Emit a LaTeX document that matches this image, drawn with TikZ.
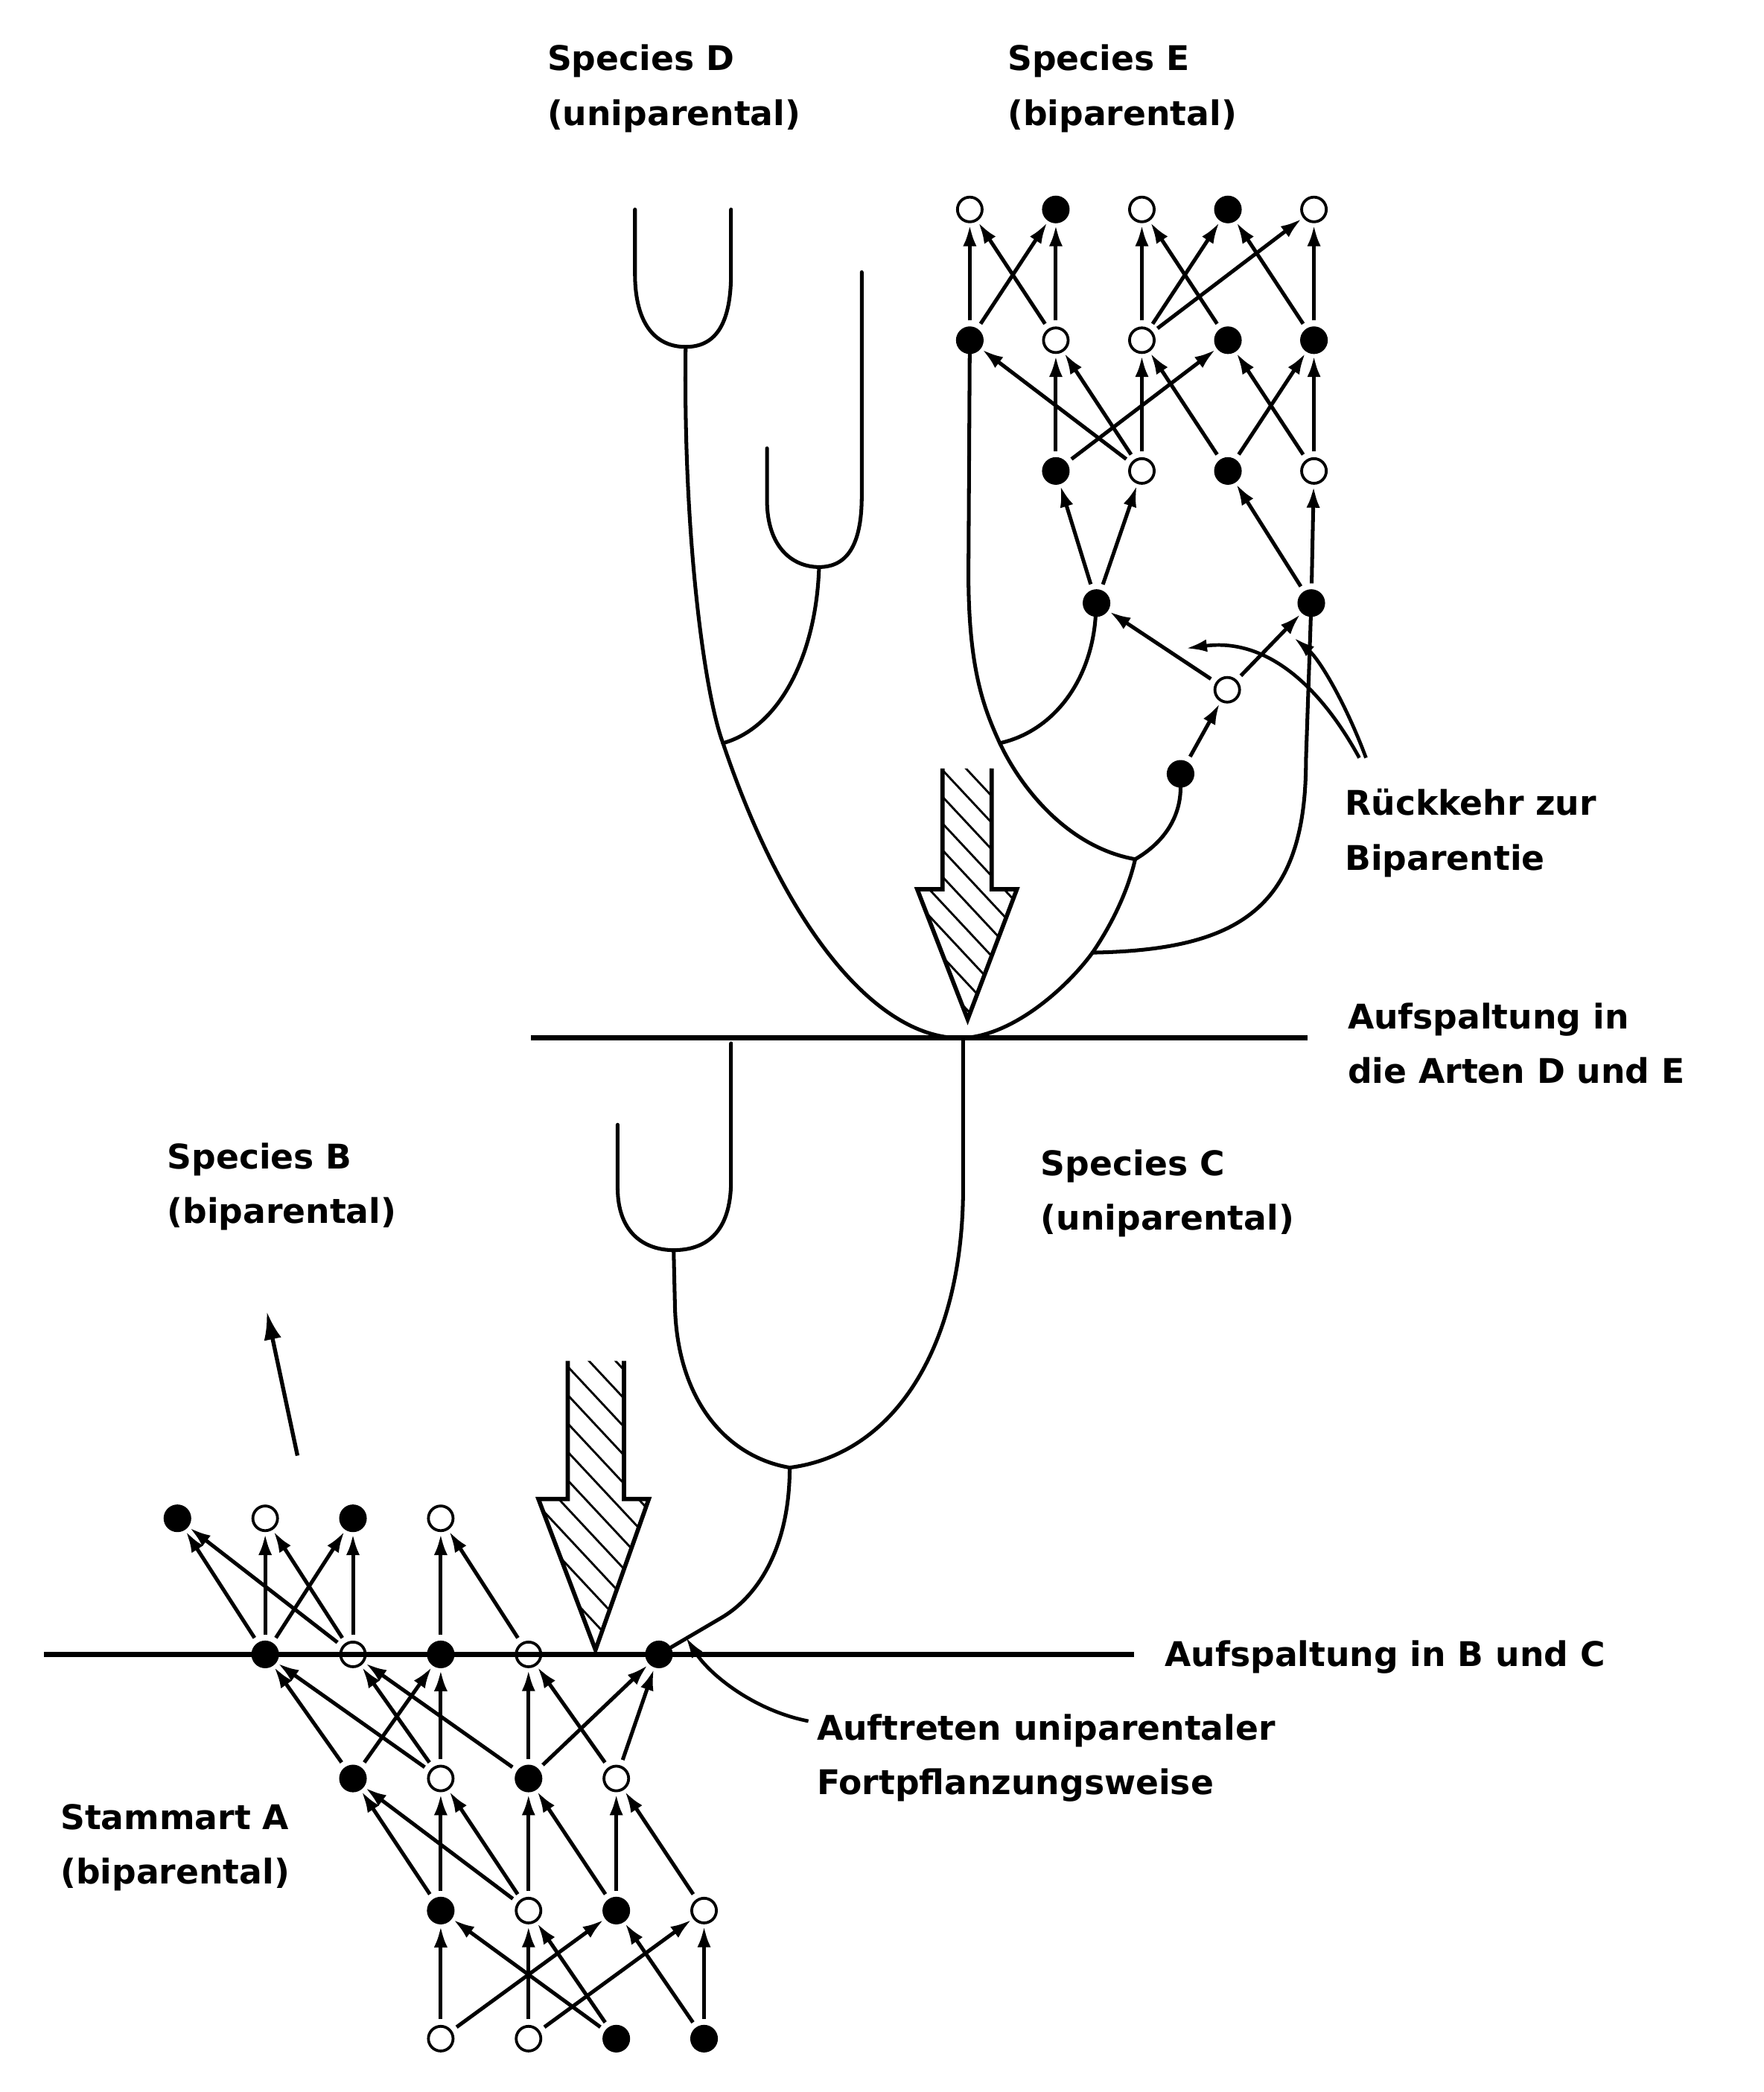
\documentclass[tikz,border=0pt]{standalone}
\usepackage{fontspec}
\setmainfont{DejaVu Sans}
\usetikzlibrary{arrows.meta}

\begin{document}
\begin{tikzpicture}[x=0.02cm,y=-0.02cm]
		\tikzstyle{fleche}=[->,>={Latex[length=9pt,width=5.8pt]},line width=1.6pt,shorten <=2.5pt,shorten >=0.8pt]
		\tikzstyle{pointeur}=[->,>={Latex[length=9pt,width=5.4pt]},line width=1.5pt]
		\tikzstyle{grandefleche}=[->,>={Latex[length=12pt,width=7.5pt]},line width=1.7pt]
		\tikzstyle{plein}=[circle,fill=black,draw=black,inner sep=0pt,minimum size=0.4cm]
		\tikzstyle{vide}=[circle,draw=black,line width=1.2pt,inner sep=0pt,minimum size=0.37cm]
		\tikzstyle{branche}=[line width=1.6pt,line cap=round]
		\tikzstyle{coupure}=[line width=2.1pt]
		\tikzstyle{contour}=[line width=1.8pt,line join=miter]
		\tikzstyle{hachure}=[line width=0.9pt]
		\tikzstyle{texte}=[anchor=base west,inner sep=0pt,font=\fontsize{14.5}{17}\selectfont\bfseries]
		
		\def\Interligne{0.82cm}
		\def\ColA{133}
		\def\PasA{65.8}
		\def\ColE{727}
		\def\PasE{64.5}
		\def\FlecheBC{(425.6,1020) -- (425.6,1123.5) -- (403.6,1123.5) -- (446.4,1236.6) -- (486.4,1123.5) -- (467.8,1123.5) -- (467.8,1020)}
		\def\FlecheDE{(706.5,576) -- (706.5,666.5) -- (687.6,666.5) -- (725.4,764) -- (762.3,666.5) -- (743.4,666.5) -- (743.4,576)}
		
		\useasboundingbox (0,0) rectangle (1322,1568);
		
		\coordinate (coupBCg) at (33,1240);
		\coordinate (coupBCd) at (850,1240);
		\coordinate (coupDEg) at (398,778);
		\coordinate (coupDEd) at (980,778);
		\draw[coupure] (coupBCg) -- (coupBCd);
		\draw[coupure] (coupDEg) -- (coupDEd);
		
		\node[plein] (b1) at ({\ColA+0*\PasA},1138) {};
		\node[vide] (b2) at ({\ColA+1*\PasA},1138) {};
		\node[plein] (b3) at ({\ColA+2*\PasA},1138) {};
		\node[vide] (b4) at ({\ColA+3*\PasA},1138) {};
		\node[plein] (l1) at ({\ColA+1*\PasA},1240) {};
		\node[vide] (l2) at ({\ColA+2*\PasA},1240) {};
		\node[plein] (l3) at ({\ColA+3*\PasA},1240) {};
		\node[vide] (l4) at ({\ColA+4*\PasA},1240) {};
		\node[plein] (l5) at (494,1240) {};
		\node[plein] (m1) at ({\ColA+2*\PasA},1333) {};
		\node[vide] (m2) at ({\ColA+3*\PasA},1333) {};
		\node[plein] (m3) at ({\ColA+4*\PasA},1333) {};
		\node[vide] (m4) at ({\ColA+5*\PasA},1333) {};
		\node[plein] (n1) at ({\ColA+3*\PasA},1432) {};
		\node[vide] (n2) at ({\ColA+4*\PasA},1432) {};
		\node[plein] (n3) at ({\ColA+5*\PasA},1432) {};
		\node[vide] (n4) at ({\ColA+6*\PasA},1432) {};
		\node[vide] (p1) at ({\ColA+3*\PasA},1528) {};
		\node[vide] (p2) at ({\ColA+4*\PasA},1528) {};
		\node[plein] (p3) at ({\ColA+5*\PasA},1528) {};
		\node[plein] (p4) at ({\ColA+6*\PasA},1528) {};
		
		\node[vide] (t0a) at ({\ColE+0*\PasE},157) {};
		\node[plein] (t0b) at ({\ColE+1*\PasE},157) {};
		\node[vide] (t0c) at ({\ColE+2*\PasE},157) {};
		\node[plein] (t0d) at ({\ColE+3*\PasE},157) {};
		\node[vide] (t0e) at ({\ColE+4*\PasE},157) {};
		\node[plein] (t1a) at ({\ColE+0*\PasE},255) {};
		\node[vide] (t1b) at ({\ColE+1*\PasE},255) {};
		\node[vide] (t1c) at ({\ColE+2*\PasE},255) {};
		\node[plein] (t1d) at ({\ColE+3*\PasE},255) {};
		\node[plein] (t1e) at ({\ColE+4*\PasE},255) {};
		\node[plein] (t2a) at ({\ColE+1*\PasE},353) {};
		\node[vide] (t2b) at ({\ColE+2*\PasE},353) {};
		\node[plein] (t2c) at ({\ColE+3*\PasE},353) {};
		\node[vide] (t2d) at ({\ColE+4*\PasE},353) {};
		\node[plein] (t3a) at (822,452) {};
		\node[plein] (t3b) at (983,452) {};
		\node[vide] (r2) at (920,517) {};
		\node[plein] (r1) at (885,580) {};
		
		\coordinate (fond) at (722,778);
		\coordinate (jD) at (542,557);
		\coordinate (jE1) at (749.5,557);
		\coordinate (jE2) at (851,644);
		\coordinate (jE3) at (819,714);
		\coordinate (jC) at (592,1100);
		\coordinate (u1) at (514,260);
		\coordinate (u1g) at (476,157);
		\coordinate (u1d) at (548,157);
		\coordinate (u2) at (614,425);
		\coordinate (u2g) at (575,336);
		\coordinate (u2d) at (646,204);
		\coordinate (u3) at (505,937);
		\coordinate (u3g) at (463,843);
		\coordinate (u3d) at (548,782);
		
		\draw[branche] (u1g) -- (476,205) .. controls (476,245) and (493,260) .. (u1) .. controls (535,260) and (548,245) .. (548,205) -- (u1d);
		\draw[branche] (u2g) -- (575,375) .. controls (575,410) and (594,425) .. (u2) .. controls (634,425) and (646,410) .. (646,372) -- (u2d);
		\draw[branche] (u1) .. controls (512,400) and (528,520) .. (jD);
		\draw[branche] (u2) .. controls (612,490) and (585,545) .. (jD);
		\draw[branche] (jD) .. controls (590,700) and (660,780) .. (fond);
		\draw[branche] (fond) .. controls (760,776) and (800,740) .. (jE3);
		\draw[branche] (jE3) .. controls (832,695) and (845,670) .. (jE2);
		\draw[branche] (t1a) -- (726,430) .. controls (726,500) and (737,530) .. (jE1);
		\draw[branche] (jE1) .. controls (765,590) and (800,635) .. (jE2);
		\draw[branche] (jE1) .. controls (790,548) and (818,510) .. (t3a);
		\draw[branche] (jE2) .. controls (875,630) and (885,610) .. (r1);
		\draw[branche] (jE3) .. controls (930,712) and (979,680) .. (979,570) -- (t3b);
		
		\draw[branche] (fond) -- (722,890) .. controls (722,1010) and (670,1090) .. (jC);
		\draw[branche] (u3g) -- (463,890) .. controls (463,925) and (484,937) .. (u3) .. controls (528,937) and (548,925) .. (548,885) -- (u3d);
		\draw[branche] (u3) -- (506,980) .. controls (508,1050) and (545,1092) .. (jC);
		\draw[branche] (jC) .. controls (592,1160) and (568,1197) .. (540,1213) -- (l5);
		
		\begin{scope}
		\clip \FlecheBC -- cycle;
		\foreach \k in {0,...,15} \draw[hachure] (400,{933+21.3*\k}) -- ++(100,107);
		\end{scope}
		\draw[contour] \FlecheBC;
		\begin{scope}
		\clip \FlecheDE -- cycle;
		\foreach \k in {0,...,14} \draw[hachure] (683,{492+20*\k}) -- ++(100,107);
		\end{scope}
		\draw[contour] \FlecheDE;
		
		\draw[fleche] (p1)--(n1);
		\draw[fleche] (p3)--(n1);
		\draw[fleche] (p2)--(n2);
		\draw[fleche] (p3)--(n2);
		\draw[fleche] (p1)--(n3);
		\draw[fleche] (p4)--(n3);
		\draw[fleche] (p2)--(n4);
		\draw[fleche] (p4)--(n4);
		\draw[fleche] (n1)--(m1);
		\draw[fleche] (n2)--(m1);
		\draw[fleche] (n1)--(m2);
		\draw[fleche] (n2)--(m2);
		\draw[fleche] (n2)--(m3);
		\draw[fleche] (n3)--(m3);
		\draw[fleche] (n3)--(m4);
		\draw[fleche] (n4)--(m4);
		\draw[fleche] (m1)--(l1);
		\draw[fleche] (m2)--(l1);
		\draw[fleche] (m2)--(l2);
		\draw[fleche] (m3)--(l2);
		\draw[fleche] (m1)--(l3);
		\draw[fleche] (m2)--(l3);
		\draw[fleche] (m3)--(l4);
		\draw[fleche] (m4)--(l4);
		\draw[fleche] (m3)--(l5);
		\draw[fleche] (m4)--(l5);
		\draw[fleche] (l1)--(b1);
		\draw[fleche] (l2)--(b1);
		\draw[fleche] (l1)--(b2);
		\draw[fleche] (l2)--(b2);
		\draw[fleche] (l1)--(b3);
		\draw[fleche] (l2)--(b3);
		\draw[fleche] (l3)--(b4);
		\draw[fleche] (l4)--(b4);
		
		\draw[fleche] (r1)--(r2);
		\draw[fleche] (r2)--(t3a);
		\draw[fleche] (r2)--(t3b);
		\draw[fleche] (t3a)--(t2a);
		\draw[fleche] (t3a)--(t2b);
		\draw[fleche] (t3b)--(t2c);
		\draw[fleche] (t3b)--(t2d);
		\draw[fleche] (t2b)--(t1a);
		\draw[fleche] (t2a)--(t1b);
		\draw[fleche] (t2b)--(t1b);
		\draw[fleche] (t2b)--(t1c);
		\draw[fleche] (t2c)--(t1c);
		\draw[fleche] (t2a)--(t1d);
		\draw[fleche] (t2d)--(t1d);
		\draw[fleche] (t2c)--(t1e);
		\draw[fleche] (t2d)--(t1e);
		\draw[fleche] (t1a)--(t0a);
		\draw[fleche] (t1b)--(t0a);
		\draw[fleche] (t1a)--(t0b);
		\draw[fleche] (t1b)--(t0b);
		\draw[fleche] (t1c)--(t0c);
		\draw[fleche] (t1d)--(t0c);
		\draw[fleche] (t1c)--(t0d);
		\draw[fleche] (t1e)--(t0d);
		\draw[fleche] (t1c)--(t0e);
		\draw[fleche] (t1e)--(t0e);
		
		\coordinate (versBq) at (223,1091);
		\coordinate (versBt) at (200,983);
		\draw[grandefleche] (versBq) -- (versBt);
		\coordinate (rueckA) at (1019,568);
		\coordinate (rueckB) at (1024,568);
		\coordinate (rueckAz) at (889,486);
		\coordinate (rueckBz) at (970,478);
		\draw[pointeur] (rueckA) .. controls (990,515) and (950,478) .. (rueckAz);
		\draw[pointeur] (rueckB) .. controls (1010,530) and (990,495) .. (rueckBz);
		\coordinate (auftrA) at (606,1290);
		\coordinate (auftrZ) at (514,1227);
		\draw[pointeur] (auftrA) .. controls (565,1282) and (532,1255) .. (auftrZ);
		
		\node[texte] (specD) at (410,53) {Species D};
		\node[texte] (specDb) at ([yshift=-\Interligne]specD.base west) {(uniparental)};
		\node[texte] (specE) at (755,53) {Species E};
		\node[texte] (specEb) at ([yshift=-\Interligne]specE.base west) {(biparental)};
		\node[texte] (rueck) at (1008,611) {Rückkehr zur};
		\node[texte] (rueckb) at ([yshift=-\Interligne]rueck.base west) {Biparentie};
		\node[texte] (aufDE) at (1010,771) {Aufspaltung in};
		\node[texte] (aufDEb) at ([yshift=-\Interligne]aufDE.base west) {die Arten D und E};
		\node[texte] (specC) at (780,881) {Species C};
		\node[texte] (specCb) at ([yshift=-\Interligne]specC.base west) {(uniparental)};
		\node[texte] (specB) at (125,876) {Species B};
		\node[texte] (specBb) at ([yshift=-\Interligne]specB.base west) {(biparental)};
		\node[texte] (aufBC) at (873,1249) {Aufspaltung in B und C};
		\node[texte] (auftr) at (612,1304) {Auftreten uniparentaler};
		\node[texte] (auftrb) at ([yshift=-\Interligne]auftr.base west) {Fortpflanzungsweise};
		\node[texte] (stamm) at (45,1371) {Stammart A};
		\node[texte] (stammb) at ([yshift=-\Interligne]stamm.base west) {(biparental)};
\end{tikzpicture}
\end{document}
